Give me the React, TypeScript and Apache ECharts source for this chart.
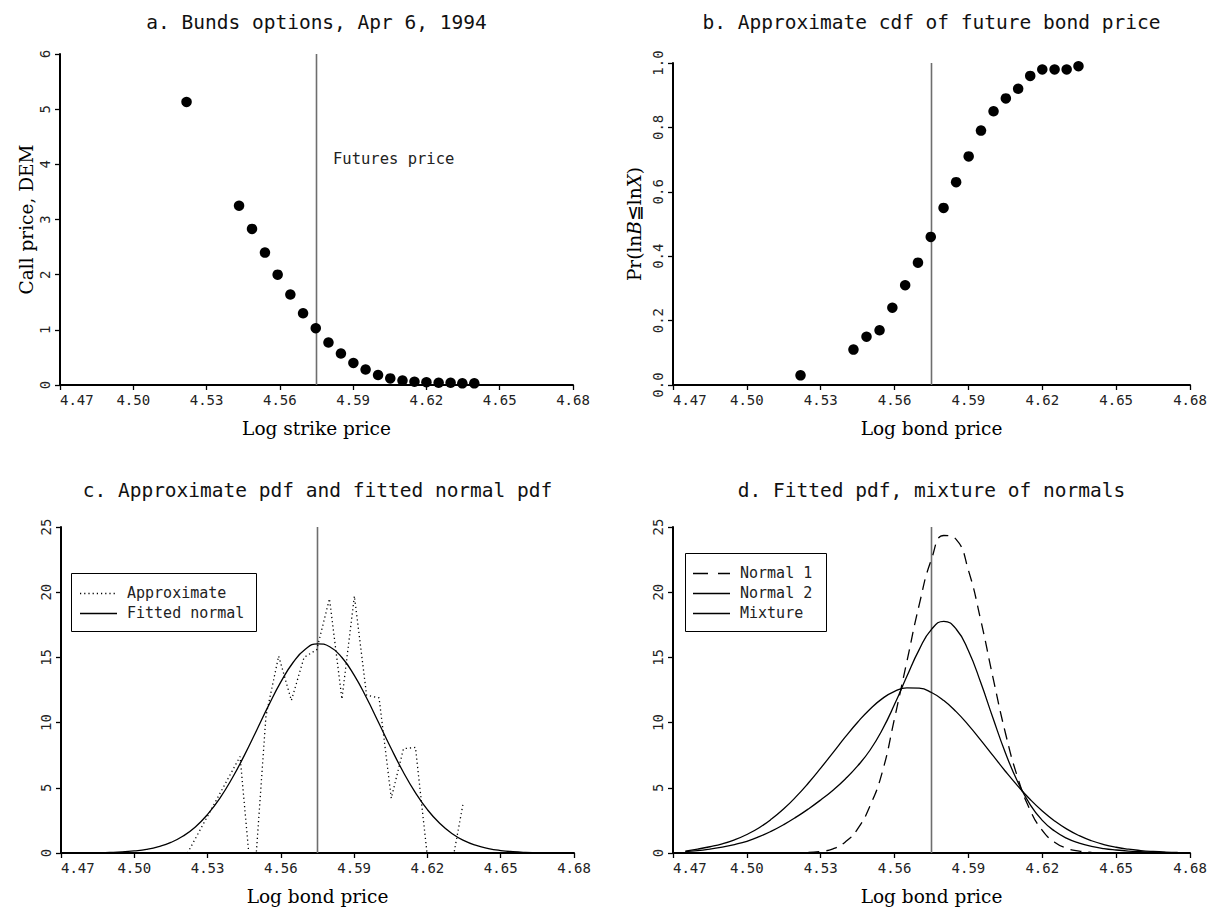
import React, { useEffect, useRef } from "react";
import * as echarts from "echarts";

// ---------- data ----------
const logStrikePrices = [4.5218, 4.5433, 4.5486, 4.5539, 4.5591, 4.5643, 4.5695, 4.5747, 4.5799, 4.585, 4.5901, 4.5951, 4.6002, 4.6052, 4.6102, 4.6151, 4.62, 4.625, 4.6299, 4.6347, 4.6396];
const callPricesDEM = [5.13, 3.25, 2.83, 2.4, 2.0, 1.64, 1.3, 1.03, 0.77, 0.57, 0.4, 0.28, 0.18, 0.12, 0.08, 0.06, 0.05, 0.04, 0.04, 0.03, 0.03];

const cdfLogBondPrices = [4.5218, 4.5433, 4.5486, 4.5539, 4.5591, 4.5643, 4.5695, 4.5747, 4.5799, 4.585, 4.5901, 4.5951, 4.6002, 4.6052, 4.6102, 4.6151, 4.62, 4.625, 4.6299, 4.6347];
const cdfProbabilities = [0.03, 0.11, 0.15, 0.17, 0.24, 0.31, 0.38, 0.46, 0.55, 0.63, 0.71, 0.79, 0.85, 0.89, 0.92, 0.96, 0.98, 0.98, 0.98, 0.99];

const approxPdfLogBondPrices = [4.5218, 4.5433, 4.5486, 4.5539, 4.5591, 4.5643, 4.5695, 4.5747, 4.5799, 4.585, 4.5901, 4.5951, 4.6002, 4.6052, 4.6102, 4.6151, 4.62, 4.625, 4.6299, 4.6347];
const approxPdfValues = [0.0, 7.4, -3.6, 10.5, 15.1, 11.7, 15.0, 15.6, 19.5, 11.8, 19.7, 12.1, 11.9, 4.2, 8.0, 8.1, -0.3, -2.5, -1.0, 3.9];

const fittedNormalLogBondPrices = [4.48, 4.485, 4.49, 4.495, 4.5, 4.505, 4.51, 4.515, 4.52, 4.525, 4.53, 4.535, 4.54, 4.545, 4.55, 4.555, 4.56, 4.565, 4.57, 4.575, 4.58, 4.585, 4.59, 4.595, 4.6, 4.605, 4.61, 4.615, 4.62, 4.625, 4.63, 4.635, 4.64, 4.645, 4.65, 4.655, 4.66, 4.665, 4.67];
const fittedNormalPdf = [0.01, 0.02, 0.04, 0.08, 0.16, 0.28, 0.49, 0.81, 1.3, 2.0, 2.96, 4.19, 5.71, 7.47, 9.38, 11.32, 13.12, 14.61, 15.62, 16.04, 15.82, 14.99, 13.64, 11.92, 10.01, 8.07, 6.25, 4.65, 3.32, 2.28, 1.5, 0.95, 0.58, 0.34, 0.19, 0.1, 0.05, 0.03, 0.01];

const normal1LogBondPrices = [4.525, 4.53, 4.535, 4.54, 4.545, 4.55, 4.555, 4.56, 4.565, 4.57, 4.575, 4.58, 4.585, 4.59, 4.595, 4.6, 4.605, 4.61, 4.615, 4.62, 4.625, 4.63, 4.635, 4.64];
const normal1Pdf = [0.05, 0.12, 0.32, 0.85, 1.85, 3.6, 6.2, 10.34, 14.68, 19.03, 22.53, 24.35, 24.05, 21.68, 17.86, 13.43, 9.22, 5.79, 3.32, 1.73, 0.83, 0.36, 0.14, 0.05];

const mixtureLogBondPrices = [4.475, 4.48, 4.485, 4.49, 4.495, 4.5, 4.505, 4.51, 4.515, 4.52, 4.525, 4.53, 4.535, 4.54, 4.545, 4.55, 4.555, 4.56, 4.565, 4.57, 4.575, 4.58, 4.585, 4.59, 4.595, 4.6, 4.605, 4.61, 4.615, 4.62, 4.625, 4.63, 4.635, 4.64, 4.645, 4.65, 4.655, 4.66, 4.665, 4.67, 4.675];
const normal2Pdf = [0.15, 0.3, 0.48, 0.7, 1.01, 1.42, 1.94, 2.6, 3.39, 4.32, 5.37, 6.51, 7.7, 8.9, 10.03, 11.03, 11.84, 12.4, 12.67, 12.64, 12.31, 11.69, 10.84, 9.81, 8.66, 7.46, 6.27, 5.15, 4.12, 3.22, 2.46, 1.83, 1.33, 0.94, 0.65, 0.44, 0.29, 0.19, 0.12, 0.07, 0.04];
const mixturePdf = [0.1, 0.18, 0.3, 0.45, 0.65, 0.9, 1.25, 1.68, 2.18, 2.75, 3.38, 4.07, 4.82, 5.68, 6.68, 7.88, 9.45, 11.4, 13.55, 15.6, 17.15, 17.77, 17.18, 15.51, 13.07, 10.33, 7.69, 5.46, 3.73, 2.5, 1.68, 1.12, 0.76, 0.51, 0.34, 0.23, 0.15, 0.1, 0.06, 0.04, 0.02];

const futuresLogPrice = 4.575;
const xAxisMin = 4.47;
const xAxisMax = 4.68;
const xAxisStep = 0.03;

const panelTitles = [
  "a. Bunds options, Apr 6, 1994",
  "b. Approximate cdf of future bond price",
  "c. Approximate pdf and fitted normal pdf",
  "d. Fitted pdf, mixture of normals",
];
const legendC = ["Approximate", "Fitted normal"];
const legendD = ["Normal 1", "Normal 2", "Mixture"];

// ---------- styling ----------
const MONO = "'DejaVu Sans Mono', monospace";
const SERIF = "'DejaVu Serif', serif";
const INK = "#000";
const LABEL = "#222";
const VLINE = "#6e6e6e";

const grids = [
  { left: 60, top: 54, width: 513, height: 331 },
  { left: 673, top: 63, width: 517, height: 322 },
  { left: 61, top: 527, width: 513, height: 326 },
  { left: 673, top: 527, width: 517, height: 326 },
];

const pairs = (xs: number[], ys: number[]) => xs.map((x, i) => [x, ys[i]]);

function xAxis(gridIndex: number, name: string) {
  return {
    type: "value",
    gridIndex,
    min: xAxisMin,
    max: xAxisMax,
    interval: xAxisStep,
    name,
    nameLocation: "middle",
    nameGap: 34,
    nameTextStyle: { fontFamily: SERIF, fontSize: 18.5, color: INK },
    axisLine: { show: true, onZero: false, lineStyle: { color: INK, width: 2 } },
    axisTick: { show: true, inside: false, length: 5, lineStyle: { color: INK, width: 1.3 } },
    axisLabel: {
      show: true,
      margin: 8,
      fontFamily: MONO,
      fontSize: 14,
      color: LABEL,
      alignMinLabel: "left",
      hideOverlap: false,
      formatter: (v: number) => v.toFixed(2),
    },
    splitLine: { show: false },
  };
}

function yAxis(gridIndex: number, max: number, interval: number, decimals: number, name?: string, nameGap?: number, rich?: any) {
  return {
    type: "value",
    gridIndex,
    min: 0,
    max,
    interval,
    name: name || "",
    nameLocation: "middle",
    nameRotate: 90,
    nameGap: nameGap || 25,
    nameTextStyle: { fontFamily: SERIF, fontSize: 18.5, color: INK, rich },
    axisLine: { show: true, onZero: false, lineStyle: { color: INK, width: 2 } },
    axisTick: { show: true, inside: false, length: 5, lineStyle: { color: INK, width: 1.3 } },
    axisLabel: {
      show: true,
      rotate: 90,
      margin: 8,
      fontFamily: MONO,
      fontSize: 14,
      color: LABEL,
      hideOverlap: false,
      formatter: (v: number) => v.toFixed(decimals),
    },
    splitLine: { show: false },
  };
}

function vLine(idx: number, top: number) {
  return {
    type: "line",
    name: "futures" + idx,
    xAxisIndex: idx,
    yAxisIndex: idx,
    data: [
      [futuresLogPrice, 0],
      [futuresLogPrice, top],
    ],
    symbol: "none",
    silent: true,
    z: 1,
    lineStyle: { color: VLINE, width: 1.6, opacity: 1 },
  };
}

function curve(idx: number, name: string, xs: number[], ys: number[], dash: any, smooth: boolean) {
  return {
    type: "line",
    name,
    xAxisIndex: idx,
    yAxisIndex: idx,
    data: pairs(xs, ys),
    symbol: "none",
    smooth,
    clip: true,
    silent: true,
    z: 3,
    lineStyle: { color: INK, width: 1.3, type: dash, cap: "butt", opacity: 1 },
  };
}

function scatter(idx: number, name: string, xs: number[], ys: number[]) {
  return {
    type: "scatter",
    name,
    xAxisIndex: idx,
    yAxisIndex: idx,
    data: pairs(xs, ys),
    symbol: "circle",
    symbolSize: 10.5,
    silent: true,
    z: 4,
    itemStyle: { color: INK, opacity: 1 },
  };
}

function legendBox(x: number, y: number, w: number, h: number, labels: string[], dashes: any[], firstY: number, lineX1: number, lineX2: number, textX: number) {
  const children: any[] = [
    { type: "rect", shape: { x: x + 0.5, y: y + 0.5, width: w, height: h }, style: { fill: "none", stroke: INK, lineWidth: 1 } },
  ];
  labels.forEach((label, i) => {
    const cy = firstY + i * 20;
    children.push({
      type: "line",
      shape: { x1: lineX1, y1: cy + 0.5, x2: lineX2, y2: cy + 0.5 },
      style: { stroke: INK, lineWidth: 1.3, lineDash: dashes[i] },
    });
    children.push({
      type: "text",
      style: { text: label, x: textX, y: cy, fontFamily: MONO, fontSize: 15, fill: LABEL, align: "left", verticalAlign: "middle" },
    });
  });
  return { type: "group", children };
}

function buildOption() {
  const titleCenters = grids.map((g) => g.left + g.width / 2);
  const titleYs = [22, 22, 490, 490];
  const graphic: any[] = panelTitles.map((t, i) => ({
    type: "text",
    style: { text: t, x: titleCenters[i], y: titleYs[i], fontFamily: MONO, fontSize: 19.5, fill: "#111", align: "center", verticalAlign: "middle" },
  }));
  graphic.push({
    type: "text",
    style: { text: "Futures price", x: 333, y: 159, fontFamily: MONO, fontSize: 15.5, fill: LABEL, align: "left", verticalAlign: "middle" },
  });
  graphic.push(legendBox(71, 573, 185, 58, legendC, [[1.2, 3], null], 593, 80, 117, 127));
  graphic.push(legendBox(685, 553, 141, 78, legendD, [[15, 10], null, null], 573, 693, 730, 740));

  return {
    animation: false,
    backgroundColor: "#fff",
    grid: grids.map((g) => ({ ...g, containLabel: false, outerBoundsMode: "none" })),
    xAxis: [
      xAxis(0, "Log strike price"),
      xAxis(1, "Log bond price"),
      xAxis(2, "Log bond price"),
      xAxis(3, "Log bond price"),
    ],
    yAxis: [
      yAxis(0, 6, 1, 0, "Call price, DEM", 24),
      yAxis(1, 1, 0.2, 1, "Pr(ln{i|B}≦ln{i|X})", 29, { i: { fontFamily: SERIF, fontSize: 18.5, fontStyle: "italic", color: INK } }),
      yAxis(2, 25, 5, 0),
      yAxis(3, 25, 5, 0),
    ],
    series: [
      vLine(0, 6),
      scatter(0, "Call price", logStrikePrices, callPricesDEM),
      vLine(1, 1),
      scatter(1, "Cumulative probability", cdfLogBondPrices, cdfProbabilities),
      vLine(2, 25),
      curve(2, legendC[0], approxPdfLogBondPrices, approxPdfValues, [1.2, 3], false),
      curve(2, legendC[1], fittedNormalLogBondPrices, fittedNormalPdf, "solid", true),
      vLine(3, 25),
      curve(3, legendD[0], normal1LogBondPrices, normal1Pdf, [11, 7], true),
      curve(3, legendD[1], mixtureLogBondPrices, normal2Pdf, "solid", true),
      curve(3, legendD[2], mixtureLogBondPrices, mixturePdf, "solid", true),
    ],
    graphic,
  };
}

export default function App() {
  const ref = useRef<HTMLDivElement>(null);
  useEffect(() => {
    if (!ref.current) return;
    const chart = echarts.init(ref.current, undefined, { renderer: "svg" });
    chart.setOption(buildOption() as any);
    return () => chart.dispose();
  }, []);
  return (
    <div
      ref={ref}
      style={{ position: "absolute", left: 0, top: 0, width: 1209, height: 908, background: "#fff" }}
    />
  );
}
